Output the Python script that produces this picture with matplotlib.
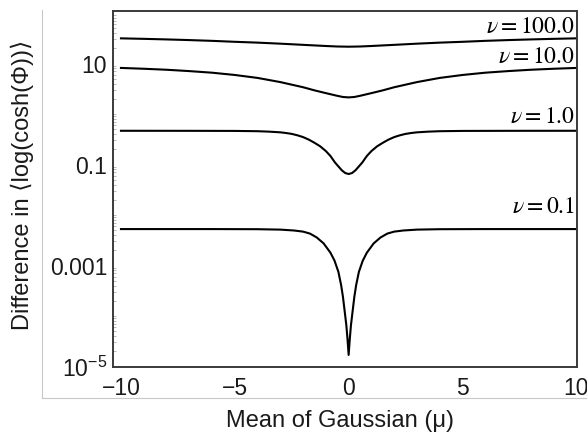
import matplotlib
matplotlib.use("Agg")
import matplotlib.pyplot as plt
from matplotlib.lines import Line2D
from matplotlib.ticker import FixedLocator, NullFormatter

plt.rcParams['font.family'] = ['Liberation Sans', 'DejaVu Sans']
plt.rcParams['mathtext.fontset'] = 'custom'
plt.rcParams['mathtext.rm'] = 'Liberation Sans'
plt.rcParams['mathtext.it'] = 'Liberation Sans:italic'
plt.rcParams['axes.unicode_minus'] = True

# values (mean mu -> difference)
mu_100 = [-10, -9, -8, -7, -6, -5, -4, -3, -2, -1, -0.5, 0, 0.5, 1, 2, 3, 4, 5, 6, 7, 8, 9, 10]
val_100 = [31.6, 30.9, 30.1, 29.2, 28.2, 27.0, 26.0, 24.8, 23.5, 22.3, 21.8, 21.6,
           21.8, 22.3, 23.5, 24.8, 26.0, 27.0, 28.2, 29.2, 30.1, 30.9, 31.6]

mu_10 = [-10, -9, -8, -7, -6, -5, -4, -3, -2, -1.5, -1, -0.5, -0.25, 0,
         0.25, 0.5, 1, 1.5, 2, 3, 4, 5, 6, 7, 8, 9, 10]
val_10 = [8.2, 7.9, 7.55, 7.1, 6.6, 5.95, 5.2, 4.3, 3.4, 2.95, 2.6, 2.3, 2.18, 2.14,
          2.18, 2.3, 2.6, 2.95, 3.4, 4.3, 5.2, 5.95, 6.6, 7.1, 7.55, 7.9, 8.2]

mu_1 = [-10, -7, -5, -4, -3.5, -3, -2.75, -2.5, -2.25, -2, -1.75, -1.5, -1.25, -1, -0.8,
        -0.6, -0.45, -0.3, -0.15, 0, 0.15, 0.3, 0.45, 0.6, 0.8, 1, 1.25, 1.5, 1.75, 2,
        2.25, 2.5, 2.75, 3, 3.5, 4, 5, 7, 10]
val_1 = [0.467, 0.466, 0.464, 0.458, 0.449, 0.435, 0.422, 0.405, 0.38, 0.35, 0.312, 0.27,
         0.23, 0.185, 0.148, 0.11, 0.092, 0.077, 0.068, 0.065, 0.068, 0.077, 0.092, 0.11,
         0.148, 0.185, 0.23, 0.27, 0.312, 0.35, 0.38, 0.405, 0.422, 0.435, 0.449, 0.458,
         0.464, 0.466, 0.467]

mu_01 = [-10, -6, -4, -3, -2.4, -2, -1.7, -1.4, -1.1, -0.8, -0.62, -0.45, -0.33, -0.25, -0.17,
         -0.1, -0.05, 0, 0.05, 0.1, 0.17, 0.25, 0.33, 0.45, 0.62, 0.8, 1.1, 1.4, 1.7, 2, 2.4,
         3, 4, 6, 10]
val_01 = [5.28e-3, 5.28e-3, 5.25e-3, 5.15e-3, 4.95e-3, 4.7e-3, 4.3e-3, 3.6e-3, 2.75e-3, 1.8e-3,
          1.25e-3, 7.5e-4, 4.1e-4, 2.4e-4, 1.2e-4, 6.5e-5, 3.5e-5, 1.7e-5, 3.5e-5, 6.5e-5,
          1.2e-4, 2.4e-4, 4.1e-4, 7.5e-4, 1.25e-3, 1.8e-3, 2.75e-3, 3.6e-3, 4.3e-3, 4.7e-3,
          4.95e-3, 5.15e-3, 5.25e-3, 5.28e-3, 5.28e-3]

series = [
    (mu_100, val_100, r'$\nu = 100.0$', 3.6),
    (mu_10, val_10, r'$\nu = 10.0$', 3.6),
    (mu_1, val_1, r'$\nu = 1.0$', 5.6),
    (mu_01, val_01, r'$\nu = 0.1$', 11.3),
]

x_ticks = [-10, -5, 0, 5, 10]
y_ticks = [1e-5, 1e-3, 1e-1, 1e1]
y_ticklabels = [r'$10^{-5}$', '0.001', '0.1', '10']

fig = plt.figure(figsize=(5.87, 4.34), dpi=100)
ax = fig.add_axes([113 / 587, 1 - 367 / 434, 464 / 587, 356 / 434])

for mu, val, label, off in series:
    ax.plot(mu, val, color='black', lw=1.5, solid_joinstyle='round')
    ax.annotate(label, xy=(mu[-1], val[-1]), xytext=(-1, off), textcoords='offset points',
                ha='right', va='baseline', fontsize=17, color='black',
                math_fontfamily='stix')

ax.set_yscale('log')
ax.set_xlim(-10.35, 10.03)
ax.set_ylim(9.8e-6, 110)

ax.set_xticks(x_ticks)
ax.set_xticklabels([str(t).replace('-', '\u2212') for t in x_ticks])
ax.yaxis.set_major_locator(FixedLocator(y_ticks))
ax.set_yticklabels(y_ticklabels)
ax.yaxis.set_minor_locator(FixedLocator(
    [m * 10.0 ** e for e in range(-5, 2) for m in range(1, 10) if m * 10.0 ** e < 110]))
ax.yaxis.set_minor_formatter(NullFormatter())

ax.tick_params(axis='x', length=0, pad=7, labelsize=16.5, colors='#1a1a1a')
ax.tick_params(axis='y', which='major', length=0, pad=4.3, labelsize=16.5, colors='#1a1a1a')
ax.tick_params(axis='y', which='minor', direction='in', length=2.5, width=0.6, color='#b0b0b0')

for s in ax.spines.values():
    s.set_color('#3a3a3a')
    s.set_linewidth(1.4)

fig.text(340 / 587, 1 - 421 / 434, 'Mean of Gaussian (\u03bc)',
         ha='center', va='center', fontsize=17, color='#1a1a1a')
fig.text(22 / 587, 1 - 185 / 434, 'Difference in \u27e8log(cosh(\u03a6))\u27e9',
         rotation=90, ha='center', va='center', fontsize=17, color='#1a1a1a')

# light outer frame on the left and bottom
fig.add_artist(Line2D([42 / 587, 42 / 587], [1 - 398 / 434, 1 - 10 / 434],
                      transform=fig.transFigure, color='#c8c8c8', lw=0.8))
fig.add_artist(Line2D([42 / 587, 1.0], [1 - 398 / 434, 1 - 398 / 434],
                      transform=fig.transFigure, color='#c8c8c8', lw=0.8))

fig.savefig('out.png', dpi=100)
